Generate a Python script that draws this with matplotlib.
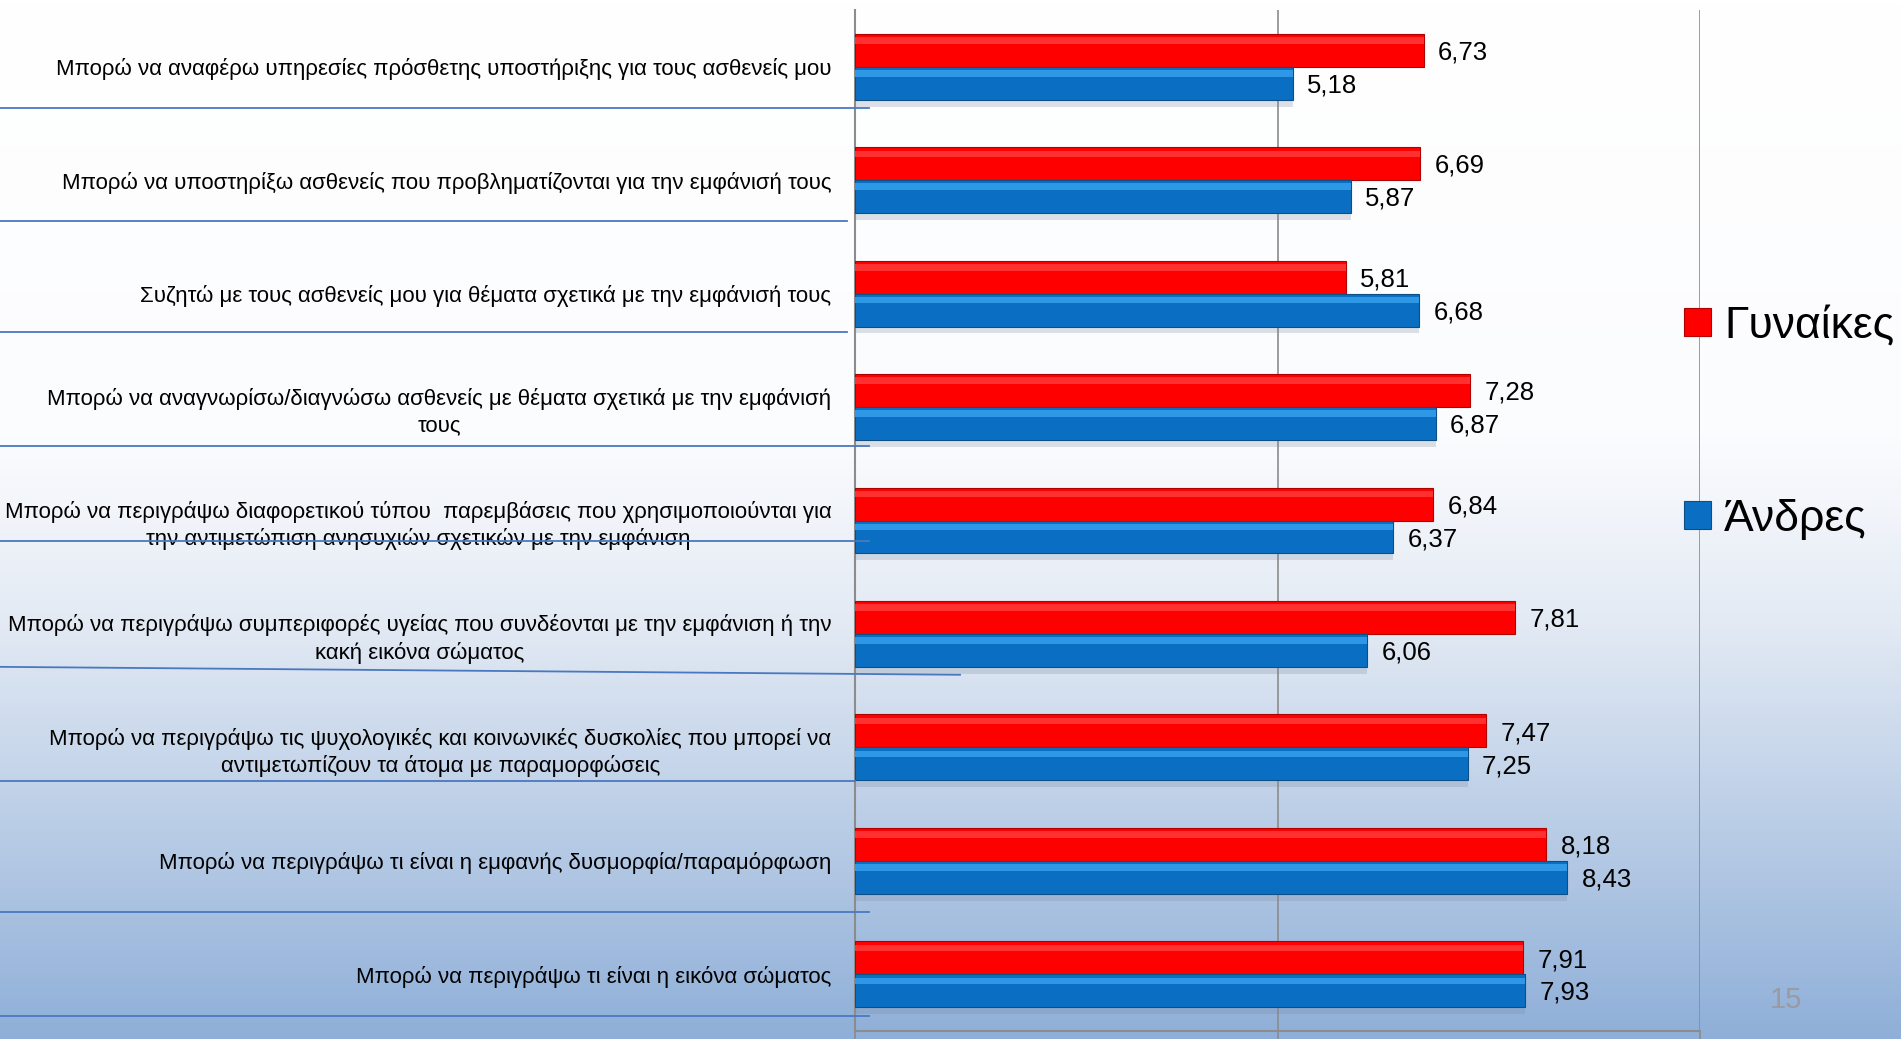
import matplotlib
matplotlib.use('Agg')
import matplotlib.pyplot as plt
import matplotlib.transforms as mtransforms
from matplotlib.colors import LinearSegmentedColormap
import numpy as np

# data
categories = [
    "Μπορώ να αναφέρω υπηρεσίες πρόσθετης υποστήριξης για τους ασθενείς μου",
    "Μπορώ να υποστηρίξω ασθενείς που προβληματίζονται για την εμφάνισή τους",
    "Συζητώ με τους ασθενείς μου για θέματα σχετικά με την εμφάνισή τους",
    "Μπορώ να αναγνωρίσω/διαγνώσω ασθενείς με θέματα σχετικά με την εμφάνισή\nτους",
    "Μπορώ να περιγράψω διαφορετικού τύπου  παρεμβάσεις που χρησιμοποιούνται για\nτην αντιμετώπιση ανησυχιών σχετικών με την εμφάνιση",
    "Μπορώ να περιγράψω συμπεριφορές υγείας που συνδέονται με την εμφάνιση ή την\nκακή εικόνα σώματος",
    "Μπορώ να περιγράψω τις ψυχολογικές και κοινωνικές δυσκολίες που μπορεί να\nαντιμετωπίζουν τα άτομα με παραμορφώσεις",
    "Μπορώ να περιγράψω τι είναι η εμφανής δυσμορφία/παραμόρφωση",
    "Μπορώ να περιγράψω τι είναι η εικόνα σώματος",
]
women = [6.73, 6.69, 5.81, 7.28, 6.84, 7.81, 7.47, 8.18, 7.91]
men = [5.18, 5.87, 6.68, 6.87, 6.37, 6.06, 7.25, 8.43, 7.93]
series_names = ["Γυναίκες", "Άνδρες"]
xticks = [0, 5, 10]

# hand drawn separator lines on the slide (y in category units, x end in figure px)
sep_y = [(0.36, 0.36), (1.36, 1.36), (2.34, 2.34), (3.34, 3.34), (4.18, 4.18),
         (5.29, 5.36), (6.30, 6.30), (7.45, 7.45), (8.37, 8.37)]
sep_xend = [869, 847, 847, 869, 869, 960, 855, 869, 869]

narrow = ['Liberation Sans Narrow', 'Liberation Sans', 'DejaVu Sans']
plt.rcParams['font.family'] = ['Liberation Sans', 'DejaVu Sans']

W, H = 1901, 1039
fig = plt.figure(figsize=(W / 100, H / 100), dpi=100)

# slide background: white top fading into light blue
bg = fig.add_axes([0, 0, 1, 1], zorder=-10)
grad = LinearSegmentedColormap.from_list(
    'bg', [(0, '#ffffff'), (0.42, '#fbfcfe'), (0.6, '#e3eaf4'), (1, '#8fafd8')])
bg.imshow(np.linspace(0, 1, 256).reshape(-1, 1), aspect='auto', cmap=grad,
          extent=[0, 1, 0, 1], origin='upper')
bg.axis('off')

ax = fig.add_axes([855 / W, 1 - 1031 / H, (1700 - 855) / W, (1031 - 10) / H])
ax.patch.set_alpha(0)

y = np.arange(len(categories))
h = 0.29
red_y = y - h / 2
blue_y = y + h / 2

ax.barh(red_y, women, height=h, color='#ff0000', edgecolor='#b00000', linewidth=0.8, zorder=3,
        label=series_names[0])
ax.barh(blue_y, men, height=h, color='#0a6fc2', edgecolor='#0b4f86', linewidth=0.8, zorder=3,
        label=series_names[1])
# bevel highlight on top part of each bar
ax.barh(red_y - h * 0.3, women, height=h * 0.2, color='#ff3030', linewidth=0, zorder=4)
ax.barh(blue_y - h * 0.3, men, height=h * 0.2, color='#2f98e6', linewidth=0, zorder=4)
# soft shadow under bars
ax.barh(blue_y + h * 0.62, men, height=h * 0.18, color='#7a8aa0', alpha=0.25, linewidth=0, zorder=2)

for yy, v in zip(red_y, women):
    ax.text(v + 0.17, yy + 0.02, f"{v:.2f}".replace('.', ','), va='center', ha='left',
            fontsize=18.5, zorder=5)
for yy, v in zip(blue_y, men):
    ax.text(v + 0.17, yy + 0.02, f"{v:.2f}".replace('.', ','), va='center', ha='left',
            fontsize=18.5, zorder=5)

ax.set_xlim(0, 10)
ax.set_ylim(len(categories) - 0.5, -0.5)
ax.set_xticks(xticks)
ax.set_xticklabels([])
ax.tick_params(axis='x', direction='out', length=8, color='#8c8c8c', width=1.2)
ax.grid(axis='x', color='#8c8c8c', linewidth=1.2, zorder=0)
ax.set_yticks(y)
ax.set_yticklabels(categories, fontsize=16, family=narrow, multialignment='center',
                   linespacing=1.3)
ax.tick_params(axis='y', length=0, pad=17)
for s in ['top', 'right']:
    ax.spines[s].set_visible(False)
for s in ['left', 'bottom']:
    ax.spines[s].set_color('#8c8c8c')
    ax.spines[s].set_linewidth(1.5)

# separator lines at the left of the slide
tr = mtransforms.blended_transform_factory(fig.transFigure, ax.transData)
for (y0, y1), xe in zip(sep_y, sep_xend):
    ax.plot([0, xe / W], [y0, y1], transform=tr, color='#4a78c0', linewidth=1.3,
            clip_on=False, zorder=6)

handles, labels = ax.get_legend_handles_labels()
fig.legend(handles, labels, loc='upper left', bbox_to_anchor=(1684 / W, 1 - 306 / H),
           frameon=False, fontsize=32, handlelength=0.6, handleheight=0.6,
           handletextpad=0.3, labelspacing=3.42, borderpad=0, borderaxespad=0)

fig.text(1786 / W, 1 - 1000 / H, "15", fontsize=21, color='#9a9aa2', family=narrow,
         ha='center', va='center')

fig.savefig('out.png', dpi=100)
